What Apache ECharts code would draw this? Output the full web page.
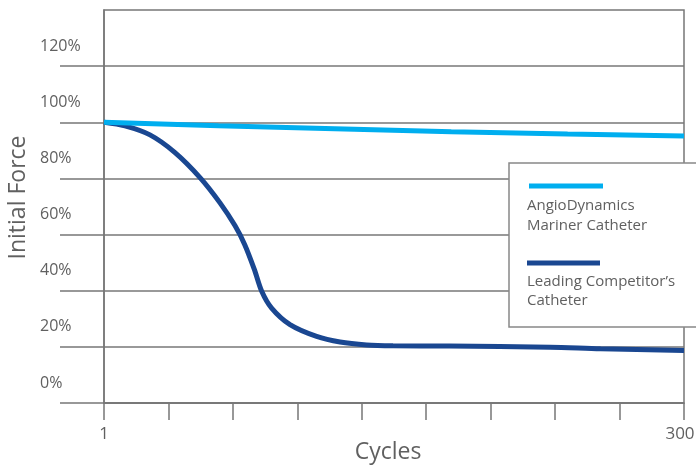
<!DOCTYPE html>
<html>
<head>
<meta charset="utf-8">
<script src="https://cdn.jsdelivr.net/npm/echarts@6/dist/echarts.min.js"></script>
<style>
html,body{margin:0;padding:0;background:#fff;}
#chart{width:696px;height:465px;}
</style>
</head>
<body>
<div id="chart"></div>
<script>
// ---- data ----
const seriesNames = ['AngioDynamics\nMariner Catheter', "Leading Competitor\u2019s\nCatheter"];
const marinerData = [[1,100],[60,98.8],[120,97.7],[180,96.6],[240,95.8],[300,95.1]];
const competitorData = [[1,100],[11.8,98.7],[24.7,95.5],[37.6,89.2],[50.5,80.3],[60.8,71.3],[68.5,63.2],[73.5,56.5],[78.5,47.6],[82.3,39.8],[87.4,33.8],[96.9,27.9],[110.6,23.7],[122.7,21.7],[136.4,20.7],[150,20.4],[179,20.3],[231,19.9],[257,19.3],[300,18.7]];
const xTickValues = [1, 34.2, 67.4, 100.7, 133.9, 167.1, 200.3, 233.6, 266.8, 300];
const xLabelValues = [1, 300];
const yTickValues = [0, 20, 40, 60, 80, 100, 120];
const yMin = 0, yMax = 140, yStep = 20;
const xName = 'Cycles';
const yName = 'Initial Force';

const colLight = '#00aeef';
const colDark = '#1a4791';
const axisCol = '#777777';
const textCol = '#606060';
const fontFam = '"Open Sans", "Noto Sans", sans-serif';

const chart = echarts.init(document.getElementById('chart'), null, {renderer: 'canvas'});

const lg = {x: 509, y: 163, w: 200, h: 164};

chart.setOption({
  animation: false,
  backgroundColor: '#fff',
  grid: {left: 104, right: 12, top: 10, bottom: 62, show: true, borderColor: axisCol, borderWidth: 1.5,
    backgroundColor: 'transparent', outerBoundsMode: 'none', containLabel: false},
  xAxis: {
    type: 'value', min: 1, max: 300,
    name: xName, nameLocation: 'middle', nameGap: 38, nameMoveOverlap: false,
    nameTextStyle: {fontSize: 23, color: textCol, fontFamily: fontFam, padding: [0, 12, 0, 0]},
    axisLine: {show: true, lineStyle: {color: axisCol, width: 1.5}},
    axisTick: {show: true, customValues: xTickValues, length: 17, lineStyle: {color: axisCol, width: 1.5}},
    axisLabel: {customValues: xLabelValues, fontSize: 17, color: textCol, fontFamily: fontFam, margin: 23,
      formatter: v => v >= 300 ? '{r|' + Math.round(v) + '}' : String(Math.round(v)),
      rich: {r: {fontSize: 17, color: textCol, fontFamily: fontFam, padding: [0, 8, 0, 0]}}},
    splitLine: {show: false}
  },
  yAxis: {
    type: 'value', min: yMin, max: yMax, interval: yStep,
    name: yName, nameLocation: 'middle', nameGap: 74, nameMoveOverlap: false,
    nameTextStyle: {fontSize: 23, color: textCol, fontFamily: fontFam, padding: [0, 0, 0, 18]},
    axisLine: {show: true, lineStyle: {color: axisCol, width: 1.5}},
    axisTick: {show: true, customValues: yTickValues, length: 44, lineStyle: {color: axisCol, width: 1.5}},
    axisLabel: {customValues: yTickValues, fontSize: 16, color: textCol, fontFamily: fontFam, margin: 64,
      align: 'left', verticalAlign: 'bottom', lineHeight: 40,
      formatter: v => v + '%'},
    splitLine: {show: true, lineStyle: {color: axisCol, width: 1.5}}
  },
  series: [
    {name: seriesNames[1], type: 'line', data: competitorData, smooth: 0.3, showSymbol: false,
      lineStyle: {color: colDark, width: 5}, z: 3},
    {name: seriesNames[0], type: 'line', data: marinerData, smooth: false, showSymbol: false,
      lineStyle: {color: colLight, width: 5}, z: 4}
  ],
  graphic: [
    {type: 'rect', z: 100, shape: {x: lg.x, y: lg.y, width: lg.w, height: lg.h},
      style: {fill: '#fff', stroke: '#888', lineWidth: 1.5}},
    {type: 'line', z: 101, shape: {x1: 529, y1: 186, x2: 603, y2: 186}, style: {stroke: colLight, lineWidth: 5}},
    {type: 'text', z: 101, x: 527, y: 196, style: {text: seriesNames[0], fill: textCol, font: '15px ' + fontFam, lineHeight: 20, textVerticalAlign: 'top'}},
    {type: 'line', z: 101, shape: {x1: 527, y1: 263, x2: 600, y2: 263}, style: {stroke: colDark, lineWidth: 5}},
    {type: 'text', z: 101, x: 527, y: 272, style: {text: seriesNames[1], fill: textCol, font: '15px ' + fontFam, lineHeight: 19, textVerticalAlign: 'top'}}
  ]
});
</script>
</body>
</html>
